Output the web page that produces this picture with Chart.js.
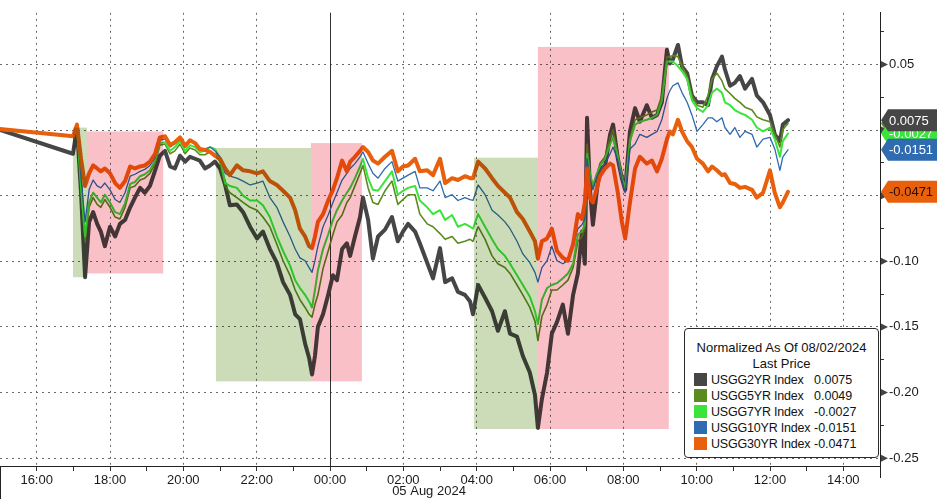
<!DOCTYPE html>
<html>
<head>
<meta charset="utf-8">
<title>USGG normalized yields</title>
<script src="https://cdn.jsdelivr.net/npm/chart.js@4.4.1/dist/chart.umd.min.js"></script>
<style>
  html, body { margin: 0; padding: 0; background: #fff; }
  #wrap { position: relative; width: 937px; height: 499px; }
  #legendBox {
    position: absolute; left: 684px; top: 328px; width: 195px; height: 130px;
    box-sizing: border-box; border: 1px solid #2a2a2a; border-radius: 4px; background: #fff;
    font: 13px "Liberation Sans", Arial, sans-serif; color: #111; line-height: 16px; padding-top: 11px;
  }
  #legendBox .ttl { text-align: center; white-space: nowrap; }
  #legendBox .row { position: relative; height: 16px; white-space: nowrap; font-size: 12.5px; }
  #legendBox .sw { position: absolute; left: 9px; top: 1px; width: 13px; height: 13px; }
  #legendBox .nm { position: absolute; left: 26px; letter-spacing: -0.2px; }
  #legendBox .val { position: absolute; left: 129px; }
</style>
</head>
<body>
<div id="wrap">
  <canvas id="chart"></canvas>
  <div id="legendBox">
    <div class="ttl">Normalized As Of 08/02/2024</div>
    <div class="ttl">Last Price</div>
    <div id="legendRows"></div>
  </div>
</div>
<script>
// =============================
// DATA (hours from 00:00, 05 Aug 2024; negative = 04 Aug)
// =============================
const times = [
  -9.00, -7.01, -6.90, -6.79, -6.68, -6.57, -6.46, -6.35, -6.25, -6.14,
  -6.00, -5.86, -5.73, -5.59, -5.45, -5.32, -5.18, -5.05, -4.91, -4.77,
  -4.64, -4.50, -4.36, -4.23, -4.09, -3.95, -3.82, -3.68, -3.55, -3.41,
  -3.27, -3.14, -3.00, -2.86, -2.73, -2.54, -2.37, -2.18, -1.99, -1.83,
  -1.64, -1.45, -1.28, -1.09, -0.95, -0.82, -0.68, -0.57, -0.49, -0.41,
  -0.33, -0.19, -0.05, 0.08, 0.19, 0.33, 0.46, 0.55, 0.68, 0.82,
  0.90, 1.04, 1.17, 1.31, 1.50, 1.69, 1.85, 1.99, 2.13, 2.32,
  2.45, 2.65, 2.81, 3.00, 3.14, 3.33, 3.49, 3.68, 3.82, 3.90,
  4.04, 4.23, 4.42, 4.58, 4.77, 4.91, 5.10, 5.26, 5.45, 5.59,
  5.67, 5.78, 5.92, 6.05, 6.19, 6.35, 6.49, 6.63, 6.76, 6.87,
  6.95, 7.01, 7.09, 7.17, 7.28, 7.36, 7.50, 7.64, 7.72, 7.85,
  7.96, 8.05, 8.18, 8.32, 8.45, 8.64, 8.78, 8.92, 9.05, 9.19,
  9.27, 9.35, 9.49, 9.60, 9.74, 9.87, 10.01, 10.17, 10.31, 10.42,
  10.55, 10.69, 10.77, 10.91, 11.04, 11.18, 11.32, 11.51, 11.64, 11.81,
  12.00, 12.13, 12.27, 12.35, 12.49
];

const usgg2yr = [
  0.0000, -0.0181, 0.0019, -0.0478, -0.1122, -0.0700, -0.0626, -0.0715, -0.0774, -0.0885,
  -0.0737, -0.0811, -0.0715, -0.0685, -0.0589, -0.0515, -0.0441, -0.0478, -0.0426, -0.0307,
  -0.0196, -0.0159, -0.0278, -0.0293, -0.0196, -0.0241, -0.0204, -0.0219, -0.0233, -0.0293,
  -0.0270, -0.0241, -0.0293, -0.0419, -0.0574, -0.0567, -0.0626, -0.0737, -0.0826, -0.0774,
  -0.0907, -0.1011, -0.1159, -0.1256, -0.1404, -0.1441, -0.1626, -0.1737, -0.1863, -0.1722,
  -0.1500, -0.1404, -0.1256, -0.1107, -0.1144, -0.0907, -0.0863, -0.0959, -0.0811, -0.0663,
  -0.0515, -0.0685, -0.0981, -0.0811, -0.0759, -0.0663, -0.0848, -0.0774, -0.0715, -0.0774,
  -0.0863, -0.1011, -0.1130, -0.0900, -0.1159, -0.1130, -0.1233, -0.1256, -0.1307, -0.1404,
  -0.1181, -0.1278, -0.1381, -0.1530, -0.1381, -0.1552, -0.1574, -0.1722, -0.1848, -0.2019,
  -0.2270, -0.2048, -0.1848, -0.1552, -0.1463, -0.1330, -0.1552, -0.1256, -0.1093, -0.0774,
  -0.1019, 0.0093, -0.0456, -0.0722, -0.0456, -0.0293, -0.0278, -0.0033, 0.0041, -0.0219,
  -0.0367, -0.0456, -0.0011, 0.0167, 0.0063, 0.0189, 0.0093, 0.0115, 0.0211, 0.0611,
  0.0507, 0.0537, 0.0648, 0.0485, 0.0433, 0.0263, 0.0211, 0.0211, 0.0189, 0.0389,
  0.0485, 0.0559, 0.0463, 0.0337, 0.0359, 0.0411, 0.0315, 0.0389, 0.0263, 0.0211,
  0.0115, -0.0033, -0.0085, 0.0041, 0.0075
];

const usgg5yr = [
  0.0000, -0.0048, 0.0033, -0.0456, -0.0848, -0.0589, -0.0515, -0.0567, -0.0589, -0.0530,
  -0.0589, -0.0663, -0.0678, -0.0589, -0.0441, -0.0426, -0.0381, -0.0367, -0.0330, -0.0256,
  -0.0115, -0.0107, -0.0181, -0.0159, -0.0107, -0.0181, -0.0137, -0.0152, -0.0189, -0.0189,
  -0.0167, -0.0181, -0.0241, -0.0426, -0.0478, -0.0515, -0.0552, -0.0589, -0.0611, -0.0663,
  -0.0737, -0.0870, -0.0996, -0.1107, -0.1219, -0.1293, -0.1352, -0.1404, -0.1426, -0.1330,
  -0.1256, -0.1056, -0.0922, -0.0796, -0.0700, -0.0648, -0.0552, -0.0515, -0.0426, -0.0330,
  -0.0270, -0.0441, -0.0552, -0.0567, -0.0463, -0.0389, -0.0567, -0.0530, -0.0493, -0.0493,
  -0.0641, -0.0715, -0.0737, -0.0789, -0.0833, -0.0811, -0.0863, -0.0848, -0.0833, -0.0848,
  -0.0737, -0.0833, -0.0959, -0.1019, -0.1048, -0.1093, -0.1181, -0.1256, -0.1352, -0.1456,
  -0.1604, -0.1419, -0.1330, -0.1219, -0.1219, -0.1181, -0.1144, -0.1048, -0.0848, -0.0811,
  -0.0752, -0.0107, -0.0330, -0.0441, -0.0352, -0.0256, -0.0204, -0.0056, 0.0004, -0.0181,
  -0.0352, -0.0441, -0.0056, 0.0078, 0.0093, 0.0115, 0.0137, 0.0152, 0.0263, 0.0559,
  0.0559, 0.0567, 0.0559, 0.0485, 0.0411, 0.0263, 0.0189, 0.0174, 0.0263, 0.0389,
  0.0433, 0.0374, 0.0315, 0.0278, 0.0241, 0.0211, 0.0174, 0.0152, 0.0100, 0.0078,
  0.0063, -0.0033, -0.0130, 0.0004, 0.0049
];

const usgg7yr = [
  0.0000, -0.0041, 0.0033, -0.0441, -0.0811, -0.0552, -0.0478, -0.0515, -0.0552, -0.0493,
  -0.0552, -0.0626, -0.0641, -0.0559, -0.0411, -0.0396, -0.0352, -0.0337, -0.0307, -0.0233,
  -0.0100, -0.0093, -0.0159, -0.0130, -0.0085, -0.0159, -0.0115, -0.0130, -0.0167, -0.0159,
  -0.0130, -0.0144, -0.0219, -0.0404, -0.0426, -0.0441, -0.0500, -0.0537, -0.0537, -0.0574,
  -0.0663, -0.0811, -0.0922, -0.1033, -0.1144, -0.1204, -0.1256, -0.1307, -0.1352, -0.1219,
  -0.1070, -0.0907, -0.0796, -0.0685, -0.0611, -0.0537, -0.0478, -0.0441, -0.0367, -0.0278,
  -0.0219, -0.0367, -0.0456, -0.0463, -0.0389, -0.0315, -0.0493, -0.0463, -0.0441, -0.0426,
  -0.0537, -0.0589, -0.0641, -0.0611, -0.0685, -0.0648, -0.0737, -0.0715, -0.0737, -0.0752,
  -0.0641, -0.0737, -0.0833, -0.0907, -0.0959, -0.1019, -0.1107, -0.1181, -0.1270, -0.1381,
  -0.1478, -0.1293, -0.1204, -0.1181, -0.1167, -0.1130, -0.1093, -0.1019, -0.0796, -0.0774,
  -0.0722, -0.0181, -0.0330, -0.0426, -0.0330, -0.0278, -0.0219, -0.0107, -0.0056, -0.0204,
  -0.0367, -0.0441, -0.0085, 0.0041, 0.0063, 0.0078, 0.0093, 0.0115, 0.0226, 0.0522,
  0.0522, 0.0522, 0.0485, 0.0448, 0.0389, 0.0226, 0.0167, 0.0137, 0.0189, 0.0285,
  0.0315, 0.0285, 0.0211, 0.0189, 0.0152, 0.0130, 0.0115, 0.0078, 0.0019, -0.0011,
  0.0019, -0.0070, -0.0204, -0.0085, -0.0027
];

const usgg10yr = [
  0.0000, -0.0048, 0.0033, -0.0367, -0.0700, -0.0456, -0.0381, -0.0426, -0.0441, -0.0404,
  -0.0456, -0.0530, -0.0552, -0.0478, -0.0352, -0.0337, -0.0315, -0.0300, -0.0270, -0.0211,
  -0.0078, -0.0070, -0.0130, -0.0107, -0.0070, -0.0130, -0.0085, -0.0107, -0.0144, -0.0144,
  -0.0130, -0.0159, -0.0204, -0.0330, -0.0352, -0.0367, -0.0389, -0.0419, -0.0404, -0.0389,
  -0.0515, -0.0589, -0.0700, -0.0811, -0.0907, -0.0974, -0.0996, -0.1048, -0.1085, -0.0996,
  -0.0885, -0.0737, -0.0648, -0.0552, -0.0478, -0.0381, -0.0330, -0.0293, -0.0256, -0.0204,
  -0.0167, -0.0256, -0.0330, -0.0367, -0.0293, -0.0241, -0.0389, -0.0367, -0.0344, -0.0315,
  -0.0441, -0.0441, -0.0463, -0.0389, -0.0515, -0.0493, -0.0537, -0.0515, -0.0530, -0.0537,
  -0.0419, -0.0493, -0.0611, -0.0648, -0.0700, -0.0752, -0.0848, -0.0944, -0.1011, -0.1085,
  -0.1159, -0.1048, -0.0996, -0.0885, -0.0996, -0.1019, -0.0996, -0.0885, -0.0752, -0.0722,
  -0.0678, -0.0219, -0.0367, -0.0456, -0.0352, -0.0307, -0.0256, -0.0181, -0.0130, -0.0233,
  -0.0381, -0.0478, -0.0144, -0.0107, -0.0033, -0.0056, -0.0033, -0.0011, 0.0078, 0.0241,
  0.0300, 0.0337, 0.0359, 0.0285, 0.0211, 0.0115, -0.0011, 0.0041, 0.0093, 0.0093,
  0.0063, 0.0093, 0.0019, -0.0033, 0.0019, -0.0056, -0.0011, -0.0033, -0.0130, -0.0070,
  -0.0056, -0.0144, -0.0307, -0.0204, -0.0151
];

const usgg30yr = [
  0.0007, -0.0048, 0.0041, -0.0219, -0.0426, -0.0330, -0.0270, -0.0293, -0.0315, -0.0293,
  -0.0330, -0.0404, -0.0441, -0.0389, -0.0278, -0.0293, -0.0278, -0.0270, -0.0241, -0.0181,
  -0.0056, -0.0048, -0.0115, -0.0093, -0.0056, -0.0122, -0.0078, -0.0100, -0.0144, -0.0152,
  -0.0167, -0.0196, -0.0219, -0.0293, -0.0344, -0.0270, -0.0307, -0.0315, -0.0330, -0.0315,
  -0.0389, -0.0419, -0.0463, -0.0515, -0.0611, -0.0752, -0.0811, -0.0885, -0.0900, -0.0811,
  -0.0700, -0.0641, -0.0537, -0.0456, -0.0367, -0.0233, -0.0315, -0.0241, -0.0204, -0.0159,
  -0.0130, -0.0167, -0.0233, -0.0256, -0.0204, -0.0159, -0.0315, -0.0278, -0.0270, -0.0219,
  -0.0315, -0.0307, -0.0344, -0.0219, -0.0404, -0.0367, -0.0381, -0.0352, -0.0367, -0.0367,
  -0.0241, -0.0293, -0.0367, -0.0426, -0.0478, -0.0515, -0.0626, -0.0678, -0.0774, -0.0848,
  -0.0981, -0.0848, -0.0826, -0.0752, -0.0922, -0.0974, -0.0996, -0.0870, -0.0641, -0.0678,
  -0.0552, -0.0293, -0.0515, -0.0552, -0.0441, -0.0352, -0.0293, -0.0256, -0.0270, -0.0478,
  -0.0700, -0.0826, -0.0552, -0.0293, -0.0204, -0.0256, -0.0233, -0.0315, -0.0219, -0.0070,
  -0.0011, -0.0033, 0.0078, -0.0011, -0.0085, -0.0130, -0.0219, -0.0256, -0.0315, -0.0278,
  -0.0307, -0.0344, -0.0337, -0.0404, -0.0411, -0.0441, -0.0433, -0.0456, -0.0515, -0.0478,
  -0.0307, -0.0478, -0.0589, -0.0552, -0.0471
];

const seriesNames = ["USGG2YR Index", "USGG5YR Index", "USGG7YR Index", "USGG10YR Index", "USGG30YR Index"];
const seriesValues = [usgg2yr, usgg5yr, usgg7yr, usgg10yr, usgg30yr];

// Shaded phases (time span and yield span)
const boxStart = [-7.01, -6.63, -3.11, -0.52, 3.93, 5.67];
const boxEnd   = [-6.63, -4.55, -0.52, 0.87, 5.67, 9.24];
const boxHigh  = [0.0018, -0.0011, -0.0137, -0.0100, -0.0211, 0.0633];
const boxLow   = [-0.1122, -0.1093, -0.1915, -0.1915, -0.2278, -0.2278];
const boxPhase = ["down", "up", "down", "up", "down", "up"];

// Axis ticks
const xTickHours = [-8, -7, -6, -5, -4, -3, -2, -1, 0, 1, 2, 3, 4, 5, 6, 7, 8, 9, 10, 11, 12, 13, 14];
const yTickValues = [0.075, 0.05, 0.025, 0, -0.025, -0.05, -0.075, -0.1, -0.125, -0.15, -0.175, -0.2, -0.225, -0.25];
const dateLabel = "05 Aug 2024";
const dateLabelAt = 2.7;

// =============================
// Styles
// =============================
const lineColors = ["#464646", "#5b8a1d", "#3be33b", "#2e6bb0", "#e8600c"];
const lineWidths = [4, 1.6, 2, 1.3, 4];
const drawOrder  = [4, 3, 2, 1, 0];
const tagText    = ["#ffffff", "#ffffff", "#ffffff", "#ffffff", "#2b0d00"];
const tagOrder   = [1, 2, 3, 4, 0];
const phaseColor = { down: "#cddcb8", up: "#f9c0c7" };
const FONT = '"Liberation Sans", Arial, sans-serif';

const isMajor = v => Math.abs(v * 20 - Math.round(v * 20)) < 1e-6;
const lastOf = arr => arr[arr.length - 1];

// =============================
// Legend (HTML)
// =============================
const rows = document.getElementById("legendRows");
seriesNames.forEach((name, i) => {
  const row = document.createElement("div");
  row.className = "row";
  row.innerHTML = `<span class="sw" style="background:${lineColors[i]}"></span>` +
    `<span class="nm">${name}</span><span class="val">${lastOf(seriesValues[i]).toFixed(4)}</span>`;
  rows.appendChild(row);
});

// =============================
// Custom drawing: background, midnight line, shaded boxes, value tags
// =============================
const decor = {
  id: "decor",
  beforeDraw(chart) {
    const ctx = chart.ctx;
    ctx.save();
    ctx.fillStyle = "#fff";
    ctx.fillRect(0, 0, chart.width, chart.height);
    ctx.restore();
  },
  beforeDatasetsDraw(chart) {
    const { ctx, chartArea, scales: { x } } = chart;
    const px = Math.round(x.getPixelForValue(0)) + 0.5;
    ctx.save();
    ctx.strokeStyle = "#333";
    ctx.lineWidth = 1;
    ctx.beginPath();
    ctx.moveTo(px, chartArea.top);
    ctx.lineTo(px, chartArea.bottom);
    ctx.stroke();
    ctx.restore();
  },
  afterDatasetsDraw(chart) {
    const { ctx, scales: { x, y } } = chart;
    ctx.save();
    ctx.globalCompositeOperation = "multiply";
    boxStart.forEach((s, i) => {
      const x0 = x.getPixelForValue(s), x1 = x.getPixelForValue(boxEnd[i]);
      const y0 = y.getPixelForValue(boxHigh[i]), y1 = y.getPixelForValue(boxLow[i]);
      ctx.fillStyle = phaseColor[boxPhase[i]];
      ctx.fillRect(x0, y0, x1 - x0, y1 - y0);
    });
    ctx.restore();
  },
  afterDraw(chart) {
    const { ctx, chartArea, scales: { x, y } } = chart;
    const ax = chartArea.right;
    ctx.save();

    // little arrow heads on the major y ticks
    ctx.fillStyle = "#444";
    yTickValues.filter(isMajor).forEach(v => {
      const py = y.getPixelForValue(v);
      ctx.beginPath();
      ctx.moveTo(ax + 1, py - 3.5);
      ctx.lineTo(ax + 8, py);
      ctx.lineTo(ax + 1, py + 3.5);
      ctx.closePath();
      ctx.fill();
    });

    // frame stubs below the axis
    ctx.strokeStyle = "#222";
    ctx.lineWidth = 1;
    ctx.beginPath();
    ctx.moveTo(ax + 0.5, chartArea.bottom);
    ctx.lineTo(ax + 0.5, chartArea.bottom + 12);
    ctx.moveTo(0.5, chartArea.bottom);
    ctx.lineTo(0.5, chart.height);
    ctx.stroke();

    // date under the time labels
    ctx.fillStyle = "#1a1a1a";
    ctx.font = "13px " + FONT;
    ctx.textAlign = "center";
    ctx.textBaseline = "middle";
    ctx.fillText(dateLabel, x.getPixelForValue(dateLabelAt), chartArea.bottom + 25);

    // last value tags on the right axis
    ctx.textAlign = "left";
    tagOrder.forEach(i => {
      const v = lastOf(seriesValues[i]);
      const py = y.getPixelForValue(v);
      ctx.fillStyle = lineColors[i];
      ctx.beginPath();
      ctx.moveTo(ax + 1, py);
      ctx.lineTo(ax + 8, py - 11);
      ctx.lineTo(chart.width, py - 11);
      ctx.lineTo(chart.width, py + 11);
      ctx.lineTo(ax + 8, py + 11);
      ctx.closePath();
      ctx.fill();
      ctx.fillStyle = tagText[i];
      ctx.fillText(v.toFixed(4), ax + 9, py + 1);
    });
    ctx.restore();
  }
};

// =============================
// Chart
// =============================
new Chart(document.getElementById("chart"), {
  type: "line",
  data: {
    datasets: seriesNames.map((name, i) => ({
      label: name,
      data: times.map((t, k) => ({ x: t, y: seriesValues[i][k] })),
      borderColor: lineColors[i],
      borderWidth: lineWidths[i],
      order: drawOrder[i],
      pointRadius: 0,
      tension: 0,
      borderJoinStyle: "round",
      borderCapStyle: "round"
    }))
  },
  options: {
    responsive: true,
    maintainAspectRatio: false,
    animation: false,
    layout: { padding: 0 },
    plugins: { legend: { display: false }, tooltip: { enabled: false } },
    scales: {
      x: {
        type: "linear",
        min: -9,
        max: 15,
        afterFit: s => { s.height = 33; },
        afterBuildTicks: s => { s.ticks = xTickHours.map(v => ({ value: v })); },
        grid: {
          color: c => (c.tick && c.tick.value % 2 === 0) ? "#6a6a6a" : "rgba(0,0,0,0)",
          tickColor: "#333",
          tickLength: 5,
          lineWidth: 1
        },
        border: { display: true, color: "#222", width: 1, dash: [2, 4] },
        ticks: {
          autoSkip: false,
          maxRotation: 0,
          padding: 2,
          color: "#1a1a1a",
          font: { family: FONT, size: 13 },
          callback: v => (v % 2 === 0) ? String(((v % 24) + 24) % 24).padStart(2, "0") + ":00" : ""
        }
      },
      y: {
        position: "right",
        min: -0.256,
        max: 0.0893,
        afterFit: s => { s.width = 57; },
        afterBuildTicks: s => { s.ticks = yTickValues.map(v => ({ value: v })); },
        grid: {
          color: c => (c.tick && isMajor(c.tick.value)) ? "#6a6a6a" : "rgba(0,0,0,0)",
          tickColor: "#333",
          tickLength: 4,
          lineWidth: 1
        },
        border: { display: true, color: "#222", width: 1, dash: [2, 4] },
        ticks: {
          autoSkip: false,
          padding: 5,
          color: "#1a1a1a",
          font: { family: FONT, size: 13 },
          callback: v => isMajor(v) ? v.toFixed(2) : ""
        }
      }
    }
  },
  plugins: [decor]
});
</script>
</body>
</html>
